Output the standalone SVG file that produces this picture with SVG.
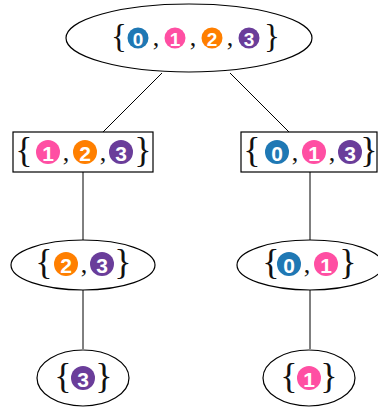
<svg xmlns="http://www.w3.org/2000/svg" width="378" height="408" viewBox="0 0 378 408">
<style>
.shape{fill:#fff;stroke:#000;stroke-width:1.2}
.edge{stroke:#000;stroke-width:1;fill:none}
.br{font-family:"Liberation Serif","DejaVu Serif",serif;font-size:33px;fill:#111;text-anchor:middle;dominant-baseline:central}
.cm{font-family:"Liberation Serif","DejaVu Serif",serif;font-size:26px;fill:#111;text-anchor:middle}
.d{font-family:"Liberation Sans","DejaVu Sans",sans-serif;font-weight:bold;font-size:19px;fill:#fff;text-anchor:middle;dominant-baseline:central}
.dl{font-size:21px}
.c0{fill:#1f78b4}.c1{fill:#ff4fa3}.c2{fill:#ff7f00}.c3{fill:#6a3d9a}
</style>
<g id="connectors">
<line class="edge" x1="162" y1="73" x2="103" y2="132"/>
<line class="edge" x1="230" y1="73" x2="289" y2="132"/>
<line class="edge" x1="83" y1="172" x2="83" y2="240"/>
<line class="edge" x1="310" y1="172" x2="310" y2="240"/>
<line class="edge" x1="83" y1="290" x2="83" y2="349"/>
<line class="edge" x1="310" y1="290" x2="310" y2="349"/>
</g>
<g id="n0123">
<ellipse class="shape" cx="189" cy="38" rx="123" ry="34"/>
<text class="br" x="119" y="36">{</text>
<circle class="c0" cx="138" cy="38" r="10.5"/><text class="d" x="138" y="39">0</text>
<text class="cm" x="156" y="46">,</text>
<circle class="c1" cx="175" cy="38" r="10.5"/><text class="d" x="175" y="39">1</text>
<text class="cm" x="193" y="46">,</text>
<circle class="c2" cx="212" cy="38" r="10.5"/><text class="d" x="212" y="39">2</text>
<text class="cm" x="230" y="46">,</text>
<circle class="c3" cx="249" cy="38" r="10.5"/><text class="d" x="249" y="39">3</text>
<text class="br" x="272" y="36">}</text>
</g>
<g id="n123">
<rect class="shape" x="13" y="132" width="140" height="40"/>
<text class="br" x="24" y="150" style="font-size:36px">{</text>
<circle class="c1" cx="48" cy="152" r="12"/><text class="d dl" x="48" y="153">1</text>
<text class="cm" x="66" y="161">,</text>
<circle class="c2" cx="85" cy="152" r="12"/><text class="d dl" x="85" y="153">2</text>
<text class="cm" x="103" y="161">,</text>
<circle class="c3" cx="121" cy="152" r="12"/><text class="d dl" x="121" y="153">3</text>
<text class="br" x="143" y="150" style="font-size:36px">}</text>
</g>
<g id="n013">
<rect class="shape" x="241" y="132" width="136" height="40"/>
<text class="br" x="252" y="150" style="font-size:36px">{</text>
<circle class="c0" cx="277" cy="152" r="12"/><text class="d dl" x="277" y="153">0</text>
<text class="cm" x="295" y="161">,</text>
<circle class="c1" cx="314" cy="152" r="12"/><text class="d dl" x="314" y="153">1</text>
<text class="cm" x="332" y="161">,</text>
<circle class="c3" cx="350" cy="152" r="12"/><text class="d dl" x="350" y="153">3</text>
<text class="br" x="369" y="150" style="font-size:36px">}</text>
</g>
<g id="n23">
<ellipse class="shape" cx="83" cy="265" rx="72" ry="25"/>
<text class="br" x="44" y="262" style="font-size:36px">{</text>
<circle class="c2" cx="66" cy="264" r="12"/><text class="d dl" x="66" y="265">2</text>
<text class="cm" x="84" y="273">,</text>
<circle class="c3" cx="102" cy="264" r="12"/><text class="d dl" x="102" y="265">3</text>
<text class="br" x="123" y="262" style="font-size:36px">}</text>
</g>
<g id="n01">
<ellipse class="shape" cx="310" cy="265" rx="73" ry="25"/>
<text class="br" x="271" y="262" style="font-size:36px">{</text>
<circle class="c0" cx="289" cy="264" r="12"/><text class="d dl" x="289" y="265">0</text>
<text class="cm" x="307" y="273">,</text>
<circle class="c1" cx="326" cy="264" r="12"/><text class="d dl" x="326" y="265">1</text>
<text class="br" x="348" y="262" style="font-size:36px">}</text>
</g>
<g id="n3">
<ellipse class="shape" cx="83" cy="378" rx="46" ry="28"/>
<text class="br" x="63" y="376" style="font-size:36px">{</text>
<circle class="c3" cx="83" cy="378" r="12"/><text class="d dl" x="83" y="379">3</text>
<text class="br" x="104" y="376" style="font-size:36px">}</text>
</g>
<g id="n1">
<ellipse class="shape" cx="309" cy="378" rx="46" ry="28"/>
<text class="br" x="289" y="376" style="font-size:36px">{</text>
<circle class="c1" cx="309" cy="378" r="12"/><text class="d dl" x="309" y="379">1</text>
<text class="br" x="329" y="376" style="font-size:36px">}</text>
</g>
</svg>
